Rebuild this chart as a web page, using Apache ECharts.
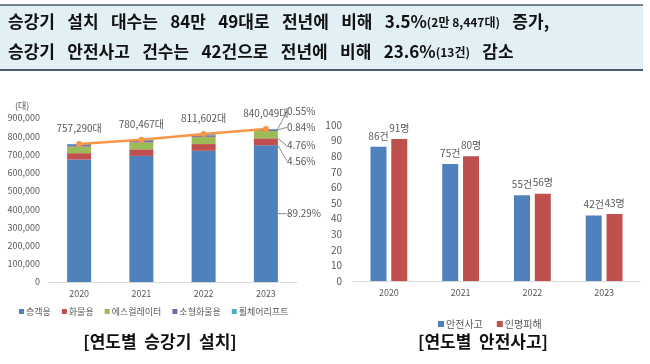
<!DOCTYPE html>
<html><head><meta charset="utf-8">
<script src="https://cdn.jsdelivr.net/npm/echarts@6/dist/echarts.min.js"></script>
<style>html,body{margin:0;padding:0;background:#fff}#c{width:650px;height:364px}</style>
</head><body><div id="c"></div>
<script>
// ---- data ----
const years = ['2020', '2021', '2022', '2023'];
const passenger = [672000, 692000, 720000, 750080];   // 승객용
const freight = [35000, 36000, 37000, 38306];         // 화물용
const escalator = [36000, 38000, 39500, 39986];       // 에스컬레이터
const dumbwaiter = [8500, 8000, 8500, 7056];          // 소형화물용
const wheelchair = [5790, 6467, 6602, 4621];          // 휠체어리프트
const totals = [757290, 780467, 811602, 840049];      // 합계
const share2023 = ['89.29%', '4.56%', '4.76%', '0.84%', '0.55%'];
const accidents = [86, 75, 55, 42];                   // 안전사고
const casualties = [91, 80, 56, 43];                  // 인명피해
const leftTicks = [0, 100000, 200000, 300000, 400000, 500000, 600000, 700000, 800000, 900000];

const FONT = '"Noto Sans CJK KR","Noto Sans",sans-serif';
const GRAY = '#595959';
const chart = echarts.init(document.getElementById('c'), null, {renderer: 'canvas'});

const stackNames = ['승객용', '화물용', '에스컬레이터', '소형화물용', '휠체어리프트'];
const stackData = [passenger, freight, escalator, dumbwaiter, wheelchair];
const stackColors = ['#4F81BD', '#C0504D', '#9BBB59', '#8064A2', '#4BACC6'];
const labelDy = [0, 19, 11, -3, -18];

const stackSeries = stackNames.map((n, i) => ({
  name: n, type: 'bar', stack: 'inst', xAxisIndex: 0, yAxisIndex: 0,
  barWidth: 24, itemStyle: {color: stackColors[i]},
  data: stackData[i].map((v, j) => j === 3 ? {
    value: v,
    label: {show: true, position: 'right', distance: 9, formatter: share2023[i],
      fontSize: 10, color: GRAY, fontFamily: FONT}
  } : v),
  labelLayout: {dy: labelDy[i]},
  labelLine: {show: true, lineStyle: {color: '#8c8c8c', width: 1}, length2: 0}
}));

const SP = '\u2002 ';
const headRich = {
  a: {fontSize: 17, fontWeight: 'bold', fontFamily: FONT, fill: '#111'},
  n: {fontSize: 17, fontWeight: 'bold', fontFamily: FONT, fill: '#111'},
  s: {fontSize: 12, fontWeight: 'bold', fontFamily: FONT, fill: '#111'}
};

const option = {
  animation: false,
  textStyle: {fontFamily: FONT},
  graphic: [
    {type: 'rect', shape: {x: 0, y: 5, width: 643, height: 65}, style: {fill: '#e2f0f6'}},
    {type: 'line', shape: {x1: 0, y1: 5, x2: 643, y2: 5}, style: {stroke: '#4b5a70', lineWidth: 1.5}},
    {type: 'line', shape: {x1: 0, y1: 70, x2: 643, y2: 70}, style: {stroke: '#4b5a70', lineWidth: 2}},
    {type: 'text', x: 8, y: 22, style: {
      text: `{a|승강기${SP}설치${SP}대수는${SP}}{n|84}{a|만${SP}}{n|49}{a|대로${SP}전년에${SP}비해${SP}}{n|3.5%}{s|(2만 8,447대)}{a|${SP}증가,}`,
      verticalAlign: 'middle', rich: headRich}},
    {type: 'text', x: 8, y: 52, style: {
      text: `{a|승강기${SP}안전사고${SP}건수는${SP}}{n|42}{a|건으로${SP}전년에${SP}비해${SP}}{n|23.6%}{s|(13건)}{a|${SP}감소}`,
      verticalAlign: 'middle', rich: headRich}},
    {type: 'text', x: 15, y: 106, style: {text: '(대)', fontSize: 9, fill: GRAY, fontFamily: FONT, verticalAlign: 'middle'}},
    {type: 'text', x: 160, y: 342, style: {text: '[연도별  승강기  설치]', fontSize: 17, fontWeight: 'bold', fill: '#111', fontFamily: FONT, align: 'center', verticalAlign: 'middle'}},
    {type: 'text', x: 483, y: 342, style: {text: '[연도별  안전사고]', fontSize: 17, fontWeight: 'bold', fill: '#111', fontFamily: FONT, align: 'center', verticalAlign: 'middle'}}
  ],
  legend: [
    {data: stackNames, left: 14, top: 302, icon: 'rect', itemWidth: 5, itemHeight: 5, itemGap: 11,
      textStyle: {fontSize: 9, color: GRAY, fontFamily: FONT, padding: [0, 0, 0, -3]}},
    {data: ['안전사고', '인명피해'], left: 433, top: 314, icon: 'rect', itemWidth: 6, itemHeight: 6, itemGap: 14,
      textStyle: {fontSize: 10, color: GRAY, fontFamily: FONT, padding: [0, 0, 0, -3]}}
  ],
  grid: [
    {left: 48, right: 353, top: 118, bottom: 82},
    {left: 353, right: 10, top: 125, bottom: 83}
  ],
  xAxis: [
    {type: 'category', gridIndex: 0, data: years,
      axisLine: {lineStyle: {color: '#d9d9d9'}}, axisTick: {show: false},
      axisLabel: {fontSize: 9, color: GRAY, margin: 7, fontFamily: FONT}},
    {type: 'category', gridIndex: 1, data: years,
      axisLine: {lineStyle: {color: '#d9d9d9'}}, axisTick: {show: false},
      axisLabel: {fontSize: 9, color: GRAY, margin: 7, fontFamily: FONT}}
  ],
  yAxis: [
    {type: 'value', gridIndex: 0, min: leftTicks[0], max: leftTicks[leftTicks.length - 1], interval: 100000,
      splitLine: {show: false}, axisLine: {show: false}, axisTick: {show: false},
      axisLabel: {fontSize: 9, color: GRAY, margin: 8, fontFamily: FONT,
        formatter: v => v.toLocaleString('en-US')}},
    {type: 'value', gridIndex: 1, min: 0, max: 100, interval: 10,
      splitLine: {show: false}, axisLine: {show: false}, axisTick: {show: false},
      axisLabel: {fontSize: 10, color: GRAY, margin: 11, fontFamily: FONT}}
  ],
  series: [
    ...stackSeries,
    {name: '합계', type: 'line', xAxisIndex: 0, yAxisIndex: 0, data: totals, z: 5,
      color: '#F79646', lineStyle: {width: 2.5, color: '#F79646'},
      symbol: 'circle', symbolSize: 6, itemStyle: {color: '#F79646'},
      label: {show: true, position: 'top', distance: 8, fontSize: 10, color: GRAY, fontFamily: FONT,
        formatter: p => p.value.toLocaleString('en-US') + '대'}},
    {name: '안전사고', type: 'bar', xAxisIndex: 1, yAxisIndex: 1, data: accidents,
      barWidth: 16, barGap: '30%', itemStyle: {color: '#4F81BD'},
      label: {show: true, position: 'top', distance: 6, fontSize: 10, color: GRAY, fontFamily: FONT, formatter: '{c}건'}},
    {name: '인명피해', type: 'bar', xAxisIndex: 1, yAxisIndex: 1, data: casualties,
      barWidth: 16, barGap: '30%', itemStyle: {color: '#C0504D'},
      label: {show: true, position: 'top', distance: 6, fontSize: 10, color: GRAY, fontFamily: FONT, formatter: '{c}명'}}
  ]
};
chart.setOption(option);
</script>
</body></html>
